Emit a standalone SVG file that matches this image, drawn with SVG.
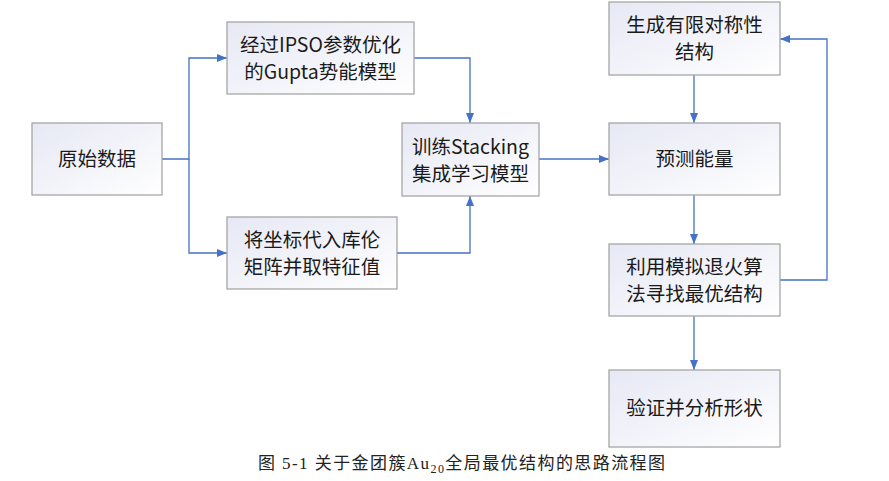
<svg xmlns="http://www.w3.org/2000/svg" width="889" height="481" viewBox="0 0 889 481">
<defs>
<linearGradient id="g" x1="0" y1="0" x2="1" y2="1">
<stop offset="0" stop-color="#e6e8f4"/>
<stop offset="1" stop-color="#ffffff"/>
</linearGradient>
<marker id="a" viewBox="0 0 10 10" refX="10" refY="5" markerWidth="10" markerHeight="10" markerUnits="userSpaceOnUse" orient="auto">
<path d="M0,1 L10,5 L0,9 z" fill="#4472c4"/>
</marker>
<style>
.n rect{fill:url(#g);stroke:#a6a6a6;stroke-width:1.3}
.n text{font-family:"Noto Sans CJK SC","Noto Sans",sans-serif;font-size:19.5px;fill:#1a1a1a;text-anchor:middle}
.c path{fill:none;stroke:#4472c4;stroke-width:1.3;marker-end:url(#a)}
.cap{font-family:"Liberation Serif","Noto Sans CJK SC",serif;font-size:17px;fill:#222}
</style>
</defs>
<rect width="889" height="481" fill="#fff"/>
<g class="c">
<path d="M162,159 H189 V58 H227"/>
<path d="M189,159 V253 H227"/>
<path d="M414,58 H470 V123"/>
<path d="M397,253 H470 V196"/>
<path d="M539,159 H609"/>
<path d="M694,75 V123"/>
<path d="M694,195 V244"/>
<path d="M694,316 V370"/>
<path d="M780,280 H827 V39 H780"/>
</g>
<g id="n1" class="n"><rect x="32" y="123" width="130" height="72"/><text x="97" y="166">原始数据</text></g>
<g id="n2" class="n"><rect x="227" y="22" width="187" height="72"/><text x="320.5" y="52">经过IPSO参数优化</text><text x="320.5" y="79">的Gupta势能模型</text></g>
<g id="n3" class="n"><rect x="227" y="217" width="170" height="72"/><text x="312" y="247">将坐标代入库伦</text><text x="312" y="274">矩阵并取特征值</text></g>
<g id="n4" class="n"><rect x="402" y="123" width="137" height="73"/><text x="470.5" y="154">训练Stacking</text><text x="470.5" y="181">集成学习模型</text></g>
<g id="n5" class="n"><rect x="609" y="2" width="171" height="73"/><text x="694.5" y="32">生成有限对称性</text><text x="694.5" y="59">结构</text></g>
<g id="n6" class="n"><rect x="609" y="123" width="171" height="72"/><text x="694.5" y="166">预测能量</text></g>
<g id="n7" class="n"><rect x="609" y="244" width="171" height="72"/><text x="694.5" y="274">利用模拟退火算</text><text x="694.5" y="301">法寻找最优结构</text></g>
<g id="n8" class="n"><rect x="609" y="370" width="171" height="77"/><text x="694.5" y="415">验证并分析形状</text></g>
<text class="cap" x="258" y="469" textLength="407" lengthAdjust="spacing">图 5-1  关于金团簇Au<tspan font-size="12" dy="4">20</tspan><tspan dy="-4">全局最优结构的思路流程图</tspan></text>
</svg>
